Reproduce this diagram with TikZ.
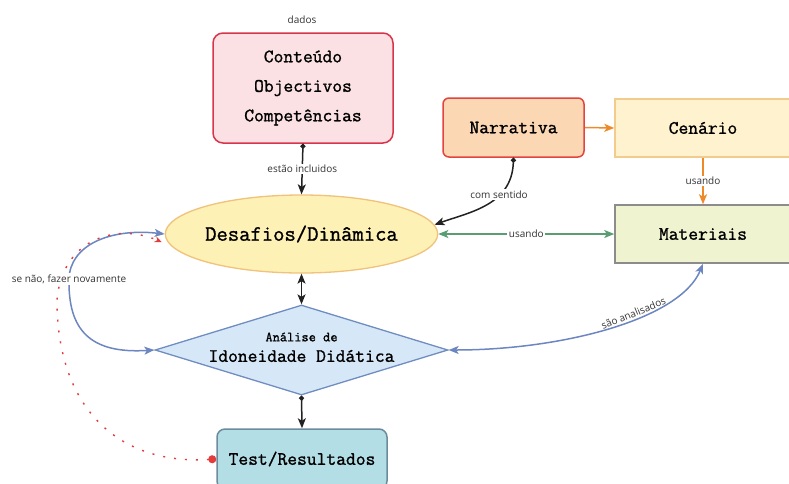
\documentclass[tikz,border=0pt]{standalone}
\usepackage{fontspec}
\setsansfont{Open Sans}
\newfontfamily\tyf{Latin Modern Mono}[FakeBold=1.2]
\usetikzlibrary{shapes.geometric,arrows.meta}

\definecolor{objfill}{HTML}{FBE1E4}
\definecolor{objline}{HTML}{D8344C}
\definecolor{desfill}{HTML}{FDF1B6}
\definecolor{desline}{HTML}{F0C27A}
\definecolor{narfill}{HTML}{FBD7B3}
\definecolor{narline}{HTML}{E2443F}
\definecolor{cenfill}{HTML}{FFF2CE}
\definecolor{cenline}{HTML}{F3CB8C}
\definecolor{matfill}{HTML}{EFF3CF}
\definecolor{matline}{HTML}{8C8C8C}
\definecolor{diafill}{HTML}{D6E8F7}
\definecolor{dialine}{HTML}{6F8DC0}
\definecolor{tstfill}{HTML}{B3DEE6}
\definecolor{tstline}{HTML}{6C8C9C}
\definecolor{orangeln}{HTML}{EF8A2A}
\definecolor{greenln}{HTML}{5A9D72}
\definecolor{blueln}{HTML}{6C86C2}
\definecolor{redln}{HTML}{E23C3C}
\definecolor{darkln}{HTML}{222222}

\tikzset{
  ptr/.tip={Stealth[length=10pt,width=8pt,inset=2.5pt]},
  bead/.tip={Circle[length=5pt]},
  box/.style={draw, line width=1.5pt, inner sep=0pt, align=center,
    font=\tyf\fontsize{19}{29.5}\selectfont},
  lbl/.style={font=\sffamily\fontsize{10}{11}\selectfont, text=black!80,
    fill=white, inner sep=1.5pt},
  conn/.style={line width=1.5pt, draw=darkln},
  wire/.style={line width=1.5pt},
}

\begin{document}
\begin{tikzpicture}[x=1pt,y=-1pt]
\useasboundingbox (0,0) rectangle (789,483);

% boxes
\node[box, rounded corners=10pt, fill=objfill, draw=objline,
  minimum width=180pt, minimum height=110pt] (obj) at (303,88)
  {Conteúdo\\Objectivos\\Competências};
\node[lbl] (dados) at (302,20) {dados};

\node[ellipse, draw=desline, fill=desfill, line width=1.3pt, inner sep=0pt,
  minimum width=267pt, minimum height=78pt,
  font=\tyf\fontsize{22}{26}\selectfont] (des) at (301.5,234) {Desafios/Dinâmica};

\node[box, rounded corners=6pt, fill=narfill, draw=narline,
  minimum width=141pt, minimum height=59pt] (nar) at (513.5,127.5) {Narrativa};
\node[box, fill=cenfill, draw=cenline,
  minimum width=176pt, minimum height=58pt] (cen) at (703,128) {Cenário};
\node[box, fill=matfill, draw=matline,
  minimum width=176pt, minimum height=58pt] (mat) at (703,234) {Materiais};

\node[diamond, draw=dialine, fill=diafill, line width=1.3pt, inner sep=0pt,
  minimum width=293pt, minimum height=90pt] (dia) at (301.5,350) {};
\node[font=\tyf\fontsize{14}{16}\selectfont] (dia1) at (301.5,337) {Análise de};
\node[font=\tyf\fontsize{19}{22}\selectfont] (dia2) at (301.5,356) {Idoneidade Didática};

\node[box, rounded corners=8pt, fill=tstfill, draw=tstline,
  minimum width=170pt, minimum height=60pt] (tst) at (302,459) {Test/Resultados};

% connectors
\draw[conn, bead-ptr] (obj.south) -- node[lbl] {estão incluidos} (des.north);
\draw[conn, ptr-ptr] (des.south) -- (dia.north);
\draw[conn, bead-ptr] (dia.south) -- (tst.north);

\draw[wire, draw=orangeln, -ptr] (nar.east) -- (cen.west);
\draw[wire, draw=orangeln, -ptr] (cen.south) -- node[lbl] {usando} (mat.north);
\draw[wire, draw=greenln, ptr-ptr] (des.east) -- node[lbl] {usando} (mat.west);

\draw[conn, bead-ptr] (nar.south) .. controls (512,205) and (470,212) .. (des.4)
  node[lbl, pos=0.35] {com sentido};

\draw[wire, draw=blueln, ptr-ptr] (dia.east)
  .. controls (560,350) and (680,320) .. (mat.south)
  node[pos=0.6, sloped, above, inner sep=1pt,
    font=\sffamily\fontsize{10}{11}\selectfont, text=black!80] {são analisados};

% feedback loop on the left
\coordinate (redoC) at (69,279);
\coordinate (redoEnd) at ([shift={(-3,8)}]des.west);
\draw[wire, draw=blueln, ptr-ptr] (dia.west)
  .. controls (90,354) and (68,330) .. (redoC)
  .. controls (70,245) and (110,228) .. (des.west);
\draw[line width=1.4pt, draw=redln, dash pattern=on 2pt off 9pt,
  {Circle[length=8pt]}-{Stealth[length=7pt,width=6pt]}] (tst.west)
  .. controls (120,465) and (57,410) .. (57,300)
  .. controls (62,240) and (115,222) .. (redoEnd);
\node[lbl] (redo) at (redoC) {se não, fazer novamente};
\end{tikzpicture}
\end{document}
